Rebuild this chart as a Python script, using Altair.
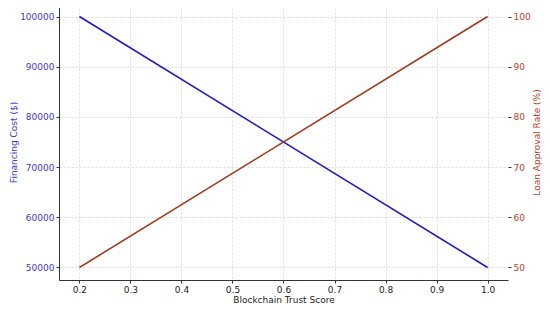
import altair as alt
import pandas as pd

trust = [0.2, 1.0]
cost = [100000, 50000]
approval = [50, 100]

df = pd.DataFrame({"trust": trust, "cost": cost, "approval": approval})

FONT = "DejaVu Sans"
BLUE_LINE = "#1a1acc"
BLUE_TXT = "#3b3bd0"
RED_LINE = "#a33a1c"
RED_TXT = "#b8432a"
GRID = dict(grid=True, gridColor="#d0d0d0", gridDash=[2, 2], gridWidth=0.8)

xscale = alt.Scale(domain=[0.16, 1.04], nice=False, zero=False)

xenc = alt.X("trust:Q", scale=xscale,
             axis=alt.Axis(values=[0.2, 0.3, 0.4, 0.5, 0.6, 0.7, 0.8, 0.9, 1.0], format=".1f",
                           title="Blockchain Trust Score", titleFont=FONT, titleFontSize=9,
                           titleFontWeight="normal", titleColor="#222", labelFont=FONT,
                           labelFontSize=9, labelColor="#222", domainColor="#333",
                           tickColor="#333", tickSize=3, labelPadding=2, titlePadding=1,
                           **GRID))

left = alt.Chart(df).mark_line(color=BLUE_LINE, strokeWidth=1.6).encode(
    x=xenc,
    y=alt.Y("cost:Q", scale=alt.Scale(domain=[47500, 102500], nice=False, zero=False),
            axis=alt.Axis(values=[50000, 60000, 70000, 80000, 90000, 100000], format="d",
                          title="Financing Cost ($)", titleColor=BLUE_TXT, titleFont=FONT,
                          titleFontSize=9, titleFontWeight="normal", labelColor=BLUE_TXT,
                          labelFont=FONT, labelFontSize=9, domainColor="#333",
                          tickColor="#333", tickSize=3, labelPadding=2, titlePadding=1,
                          **GRID)),
)

right = alt.Chart(df).mark_line(color=RED_LINE, strokeWidth=1.6).encode(
    x=alt.X("trust:Q", scale=xscale),
    y=alt.Y("approval:Q", scale=alt.Scale(domain=[47.5, 102.5], nice=False, zero=False),
            axis=alt.Axis(orient="right", values=[50, 60, 70, 80, 90, 100],
                          title="Loan Approval Rate (%)", titleColor=RED_TXT, titleFont=FONT,
                          titleFontSize=9, titleFontWeight="normal", labelColor=RED_TXT,
                          titleAngle=270, titleBaseline="top",
                          labelFont=FONT, labelFontSize=9, domain=False,
                          tickColor="#333", tickSize=3, labelPadding=2, titlePadding=2,
                          grid=False)),
)

chart = alt.layer(left, right).resolve_scale(y="independent").properties(
    width=449, height=276,
    autosize=alt.AutoSizeParams(type="none"),
    padding={"left": 51, "top": -4, "right": 34, "bottom": 23},
).configure_view(stroke=None)

chart.save("out.html", embed_options={"renderer": "svg", "actions": False})
